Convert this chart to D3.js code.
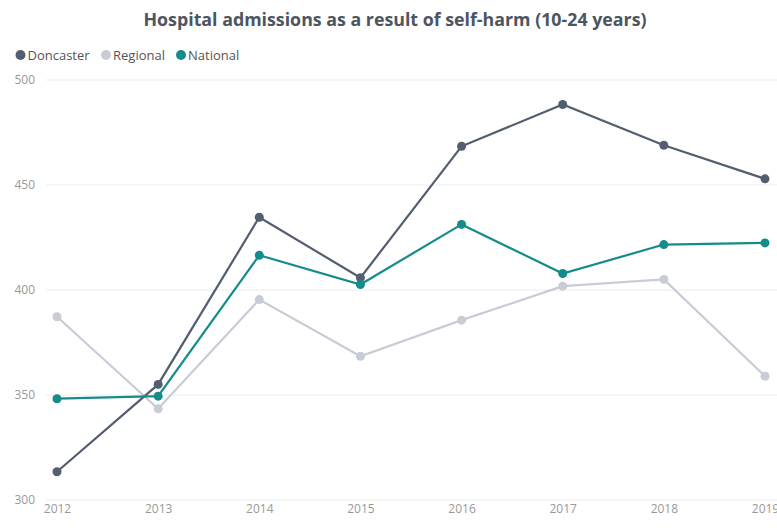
<!DOCTYPE html>
<html>
<head>
<meta charset="utf-8">
<script src="https://cdn.jsdelivr.net/npm/d3@7"></script>
<style>
  body { margin: 0; background: #fff; }
  #chart { width: 777px; height: 530px; }
</style>
</head>
<body>
<div id="chart"></div>
<script>
const years = ['2012', '2013', '2014', '2015', '2016', '2017', '2018', '2019'];
const doncaster = [313.2, 354.8, 434.4, 405.6, 468.2, 488.1, 468.7, 452.7];
const regional = [387.0, 343.2, 395.2, 368.2, 385.4, 401.6, 404.8, 358.7];
const national = [348.0, 349.2, 416.3, 402.4, 431.0, 407.6, 421.4, 422.2];
const yTicks = [300, 350, 400, 450, 500];

const seriesNames = ['Doncaster', 'Regional', 'National'];
const seriesColors = ['#535e70', '#c8ccd6', '#148c8c'];
const seriesValues = [doncaster, regional, national];

const W = 777, H = 530;
const svg = d3.select('#chart').append('svg')
  .attr('width', W).attr('height', H)
  .style('font-family', '"Segoe UI", "Open Sans", sans-serif');

// Title
svg.append('text')
  .attr('x', 395).attr('y', 26)
  .attr('text-anchor', 'middle')
  .attr('font-size', 17.8).attr('font-weight', 700)
  .attr('fill', '#4d5561')
  .text('Hospital admissions as a result of self-harm (10-24 years)');

// Legend
const legendX = [20.5, 106, 181];
const legend = svg.append('g');
seriesNames.forEach((name, i) => {
  legend.append('circle')
    .attr('cx', legendX[i]).attr('cy', 55).attr('r', 5)
    .attr('fill', seriesColors[i]);
  legend.append('text')
    .attr('x', legendX[i] + 7).attr('y', 59.5)
    .attr('font-size', 13).attr('fill', '#555')
    .text(name);
});

const x = d3.scalePoint().domain(years).range([57, 765]);
const y = d3.scaleLinear().domain([300, 500]).range([499.5, 79.5]);

// Grid + y labels
const yAxis = svg.append('g')
  .call(d3.axisLeft(y).tickValues(yTicks).tickSize(0).tickPadding(0));
yAxis.select('.domain').remove();
yAxis.selectAll('.tick text')
  .attr('x', 35).attr('text-anchor', 'end')
  .attr('font-size', 12).attr('fill', '#999')
  .attr('font-family', '"Segoe UI", "Open Sans", sans-serif');
yAxis.selectAll('.tick line')
  .attr('x1', 46).attr('x2', W)
  .attr('stroke', '#ececec').attr('stroke-width', 1);

// X labels
const xAxis = svg.append('g')
  .attr('transform', 'translate(0,504)')
  .call(d3.axisBottom(x).tickSize(0).tickPadding(0));
xAxis.select('.domain').remove();
xAxis.selectAll('.tick text')
  .attr('dy', '0.71em')
  .attr('font-size', 12).attr('fill', '#999')
  .attr('font-family', '"Segoe UI", "Open Sans", sans-serif');

// Lines and points
const line = d3.line().x((d, i) => x(years[i])).y(d => y(d));
[1, 0, 2].forEach(s => {
  const g = svg.append('g');
  g.append('path')
    .datum(seriesValues[s])
    .attr('fill', 'none')
    .attr('stroke', seriesColors[s])
    .attr('stroke-width', 2.2)
    .attr('d', line);
  g.selectAll('circle')
    .data(seriesValues[s])
    .join('circle')
    .attr('cx', (d, i) => x(years[i]))
    .attr('cy', d => y(d))
    .attr('r', 4.5)
    .attr('fill', seriesColors[s]);
});
</script>
</body>
</html>
